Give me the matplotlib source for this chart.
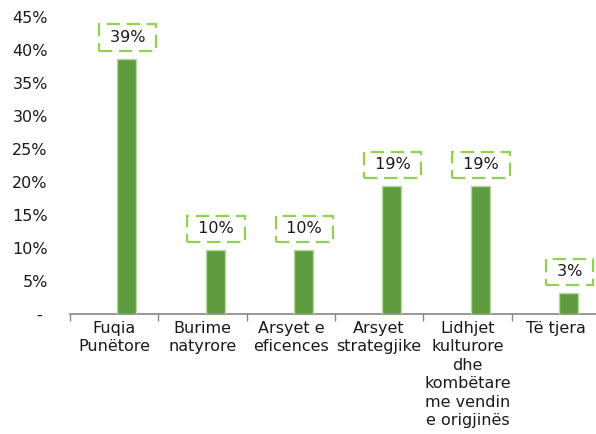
import matplotlib
matplotlib.use("Agg")
import matplotlib.pyplot as plt
from matplotlib.ticker import FixedLocator, NullFormatter

# Share of respondents by main reason
categories = [
    "Fuqia\nPunëtore",
    "Burime\nnatyrore",
    "Arsyet e\neficences",
    "Arsyet\nstrategjike",
    "Lidhjet\nkulturore\ndhe\nkombëtare\nme vendin\ne origjinës",
    "Të tjera",
]
values = [38.7, 9.7, 9.7, 19.4, 19.4, 3.2]
y_ticks = [0, 5, 10, 15, 20, 25, 30, 35, 40, 45]
y_tick_labels = ["- ", "5%", "10%", "15%", "20%", "25%", "30%", "35%", "40%", "45%"]

plt.rcParams["font.family"] = ["DejaVu Sans"]
fs = 11.5

fig = plt.figure(figsize=(5.96, 4.34), dpi=100)
ax = fig.add_axes([70 / 596, 120 / 434, 530 / 596, 297 / 434])

n = len(categories)
xs = list(range(n))
offset = 0.142
bar_w = 0.215
bar_x = [x + offset for x in xs]
ax.bar(bar_x, values, width=bar_w, color="#5e9a3e", edgecolor="#b5d99c", linewidth=1.0, zorder=3)

for bx, v in zip(bar_x, values):
    ax.annotate(
        f" {v:.0f}% ",
        xy=(bx, v),
        xytext=(1, 13.5),
        textcoords="offset pixels",
        ha="center",
        va="bottom",
        fontsize=fs,
        color="#1a1a1a",
        bbox=dict(boxstyle="square,pad=0.36", facecolor="white", edgecolor="#92d050",
                  linewidth=1.6, linestyle=(0, (6, 3))),
        zorder=4,
    )

ax.set_xlim(-0.5, n - 0.5)
ax.set_ylim(0, 45)

# category boundaries as tick marks, names centred between them
ax.xaxis.set_major_locator(FixedLocator([i - 0.5 for i in range(n + 1)]))
ax.xaxis.set_major_formatter(NullFormatter())
ax.xaxis.set_minor_locator(FixedLocator(xs))
ax.set_xticklabels(categories, minor=True, fontsize=fs, linespacing=1.29, color="#1a1a1a")
ax.tick_params(axis="x", which="major", length=5, color="#868686", width=1)
ax.tick_params(axis="x", which="minor", length=0, pad=5)

ax.set_yticks(y_ticks)
ax.set_yticklabels(y_tick_labels, fontsize=fs, color="#1a1a1a")
ax.tick_params(axis="y", length=0, pad=16)

for side in ("top", "right", "left"):
    ax.spines[side].set_visible(False)
ax.spines["bottom"].set_color("#868686")
ax.spines["bottom"].set_linewidth(1.2)

fig.savefig("out.png", dpi=100)
